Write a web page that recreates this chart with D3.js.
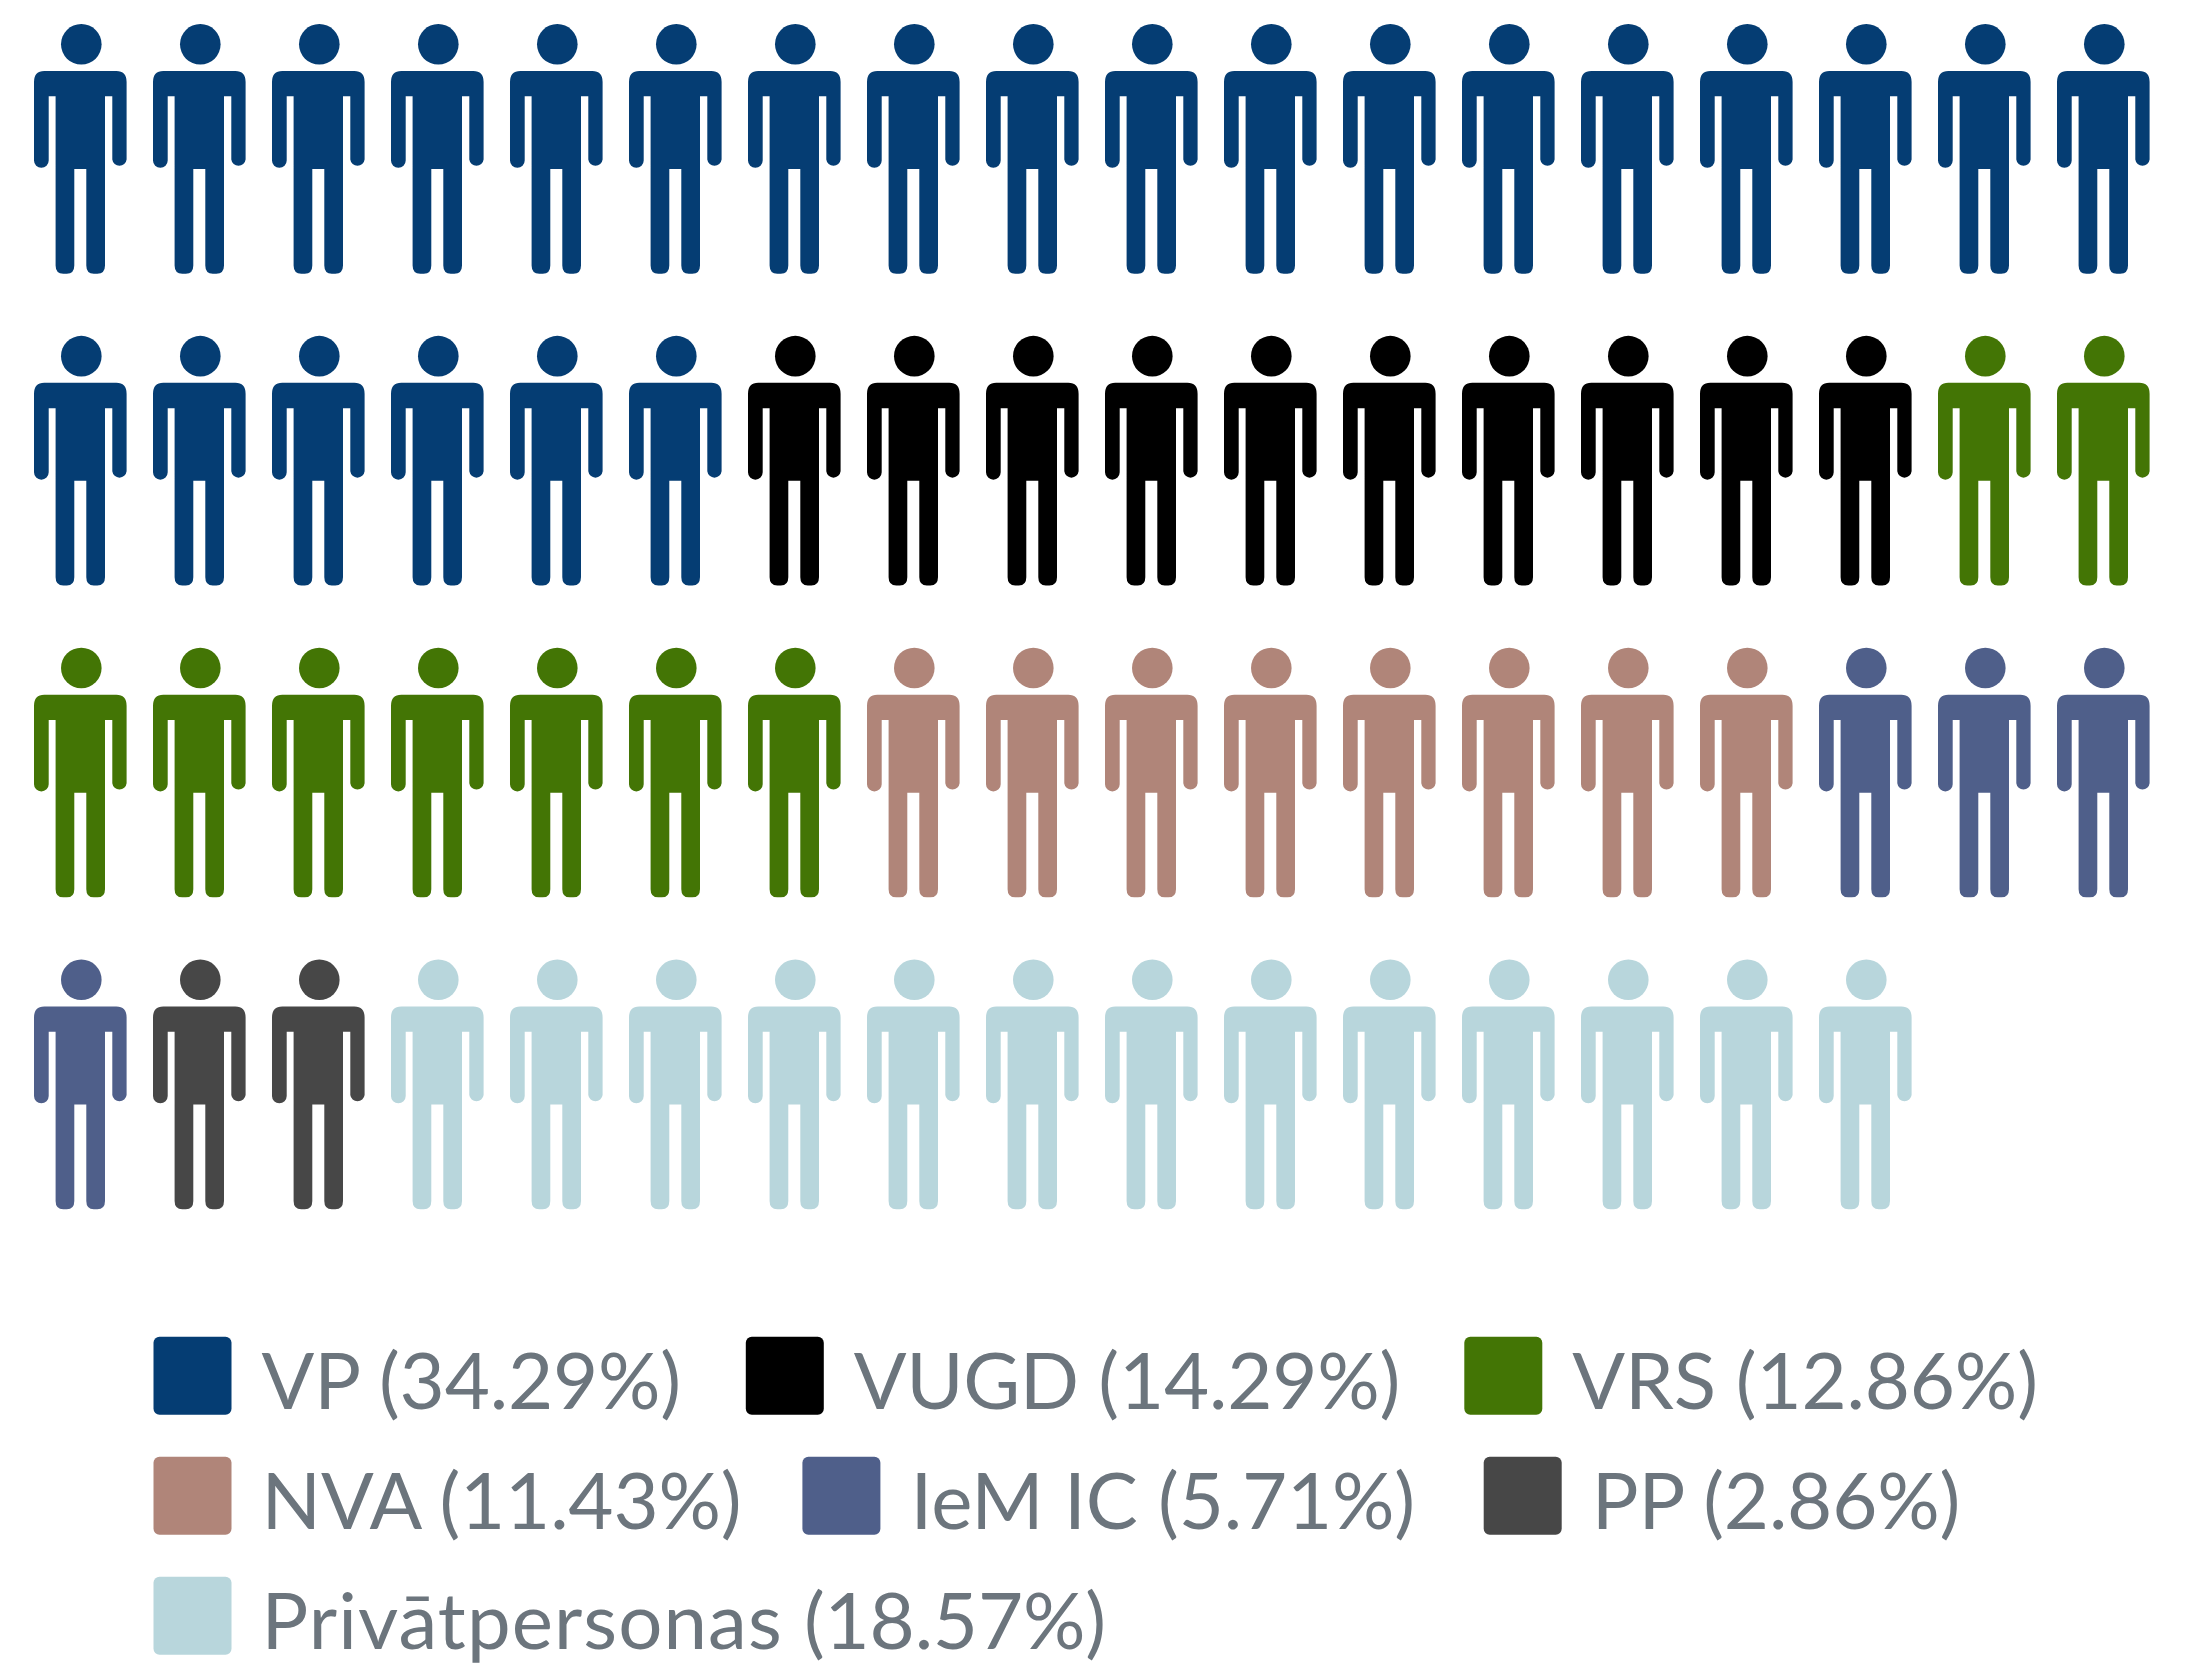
<!DOCTYPE html>
<html>
<head>
<meta charset="utf-8">
<script src="https://d3js.org/d3.v7.min.js"></script>
<style>
html, body { margin: 0; padding: 0; background: #fff; }
svg { display: block; }
.legend-label { font-family: Lato, sans-serif; font-weight: 400; font-size: 78px; fill: #6c757d; }
</style>
</head>
<body>
<svg width="2195" height="1665"></svg>
<script>
var categories = ["VP", "VUGD", "VRS", "NVA", "IeM IC", "PP", "Privātpersonas"];
var counts = [24, 10, 9, 8, 4, 2, 13];
var percents = ["34.29", "14.29", "12.86", "11.43", "5.71", "2.86", "18.57"];
var colors = ["#053d73", "#000000", "#437505", "#b08579", "#4f5f8a", "#474747", "#b8d6dc"];

var perRow = 18;

// one entry per person, in reading order
var people = [];
categories.forEach(function (c, i) {
  d3.range(counts[i]).forEach(function () { people.push(c); });
});

var x = d3.scalePoint().domain(d3.range(perRow)).range([80.3, 80.3 + 17 * 119]);
var y = d3.scalePoint().domain(d3.range(Math.ceil(people.length / perRow))).range([24, 959.5]);
var color = d3.scaleOrdinal().domain(categories).range(colors);

var bodyPath = "M-36,47 H36 Q46.3,47 46.3,58 V135.5 A7.2,7.2 0 0 1 32,135.5 V72.3 H24.7 V241.5 " +
  "Q24.7,249.7 17,249.7 H13.5 Q6,249.7 6,241.5 V145 H-6 V241.5 Q-6,249.7 -13.5,249.7 H-17 Q-24.7,249.7 -24.7,241.5 " +
  "V72.3 H-31.6 V136.5 A7.3,7.3 0 0 1 -46.3,136.5 V58 Q-46.3,47 -36,47 Z";

var svg = d3.select("svg");

var person = svg.append("g").selectAll("g")
  .data(people)
  .enter().append("g")
  .attr("transform", function (d, i) {
    return "translate(" + x(i % perRow) + "," + y(Math.floor(i / perRow)) + ")";
  })
  .attr("fill", function (d) { return color(d); });

person.append("circle").attr("cx", 1).attr("cy", 20.3).attr("r", 20.3);
person.append("path").attr("d", bodyPath);

// legend rows wrap by hand, same as the picture
var legendX = [153.5, 745.8, 1464.3, 153.5, 802.4, 1483.7, 153.5];
var legendRow = [0, 0, 0, 1, 1, 1, 2];
// Lato here sets the long name a bit tighter than the original
var nameSpacing = [0, -0.4, -0.1, -0.1, 0.1, 0, 1.1];

var legend = svg.append("g").selectAll("g")
  .data(categories)
  .enter().append("g")
  .attr("transform", function (d, i) {
    return "translate(" + legendX[i] + "," + (1336.7 + legendRow[i] * 120) + ")";
  });

legend.append("rect")
  .attr("width", 78)
  .attr("height", 78)
  .attr("rx", 6)
  .attr("fill", function (d) { return color(d); });

var label = legend.append("text")
  .attr("class", "legend-label")
  .attr("x", 108)
  .attr("y", 72);

label.append("tspan")
  .attr("letter-spacing", function (d, i) { return nameSpacing[i]; })
  .text(function (d) { return d + " "; });

label.append("tspan")
  .attr("letter-spacing", -0.2)
  .text(function (d, i) { return "(" + percents[i] + "%)"; });
</script>
</body>
</html>
